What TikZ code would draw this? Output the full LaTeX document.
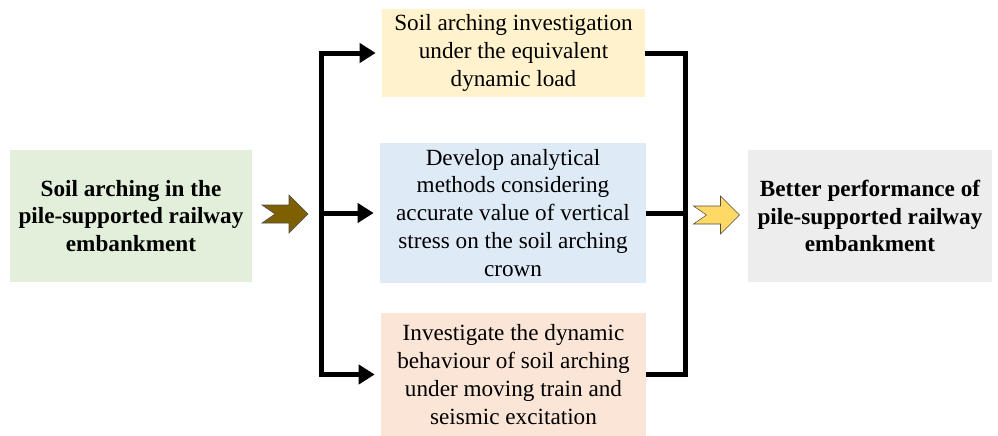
\documentclass[tikz,border=0pt]{standalone}
\usepackage{fontspec}
\setmainfont{Liberation Serif}
\usetikzlibrary{arrows.meta}

\definecolor{boxgreen}{HTML}{E2EFDA}
\definecolor{boxyellow}{HTML}{FFF2CC}
\definecolor{boxblue}{HTML}{DEEBF7}
\definecolor{boxorange}{HTML}{FBE5D6}
\definecolor{boxgrey}{HTML}{EDEDED}
\definecolor{arrowbrown}{HTML}{7F6000}
\definecolor{arrowgold}{HTML}{FFD966}

\begin{document}
\begin{tikzpicture}[
  x=0.02cm, y=-0.02cm,
  box/.style={align=center,inner sep=2pt,font=\fontsize{13.2}{15.9}\selectfont},
  mainbox/.style={box,font=\fontsize{13.2}{15.9}\selectfont\bfseries},
  line/.style={line width=0.1cm,line join=miter},
  branch/.style={line,-{Triangle[length=0.32cm,width=0.38cm]},shorten >=0.12cm},
  pics/blockarrow/.style={code={
    \filldraw[draw=black!70,line width=0.3pt,fill=#1]
      (-23,-9) -- (4,-9) -- (4,-19) -- (23,0) -- (4,19) -- (4,9)
      -- (-23,9) -- (-10,0) -- cycle;
  }}
]
  \useasboundingbox (0,0) rectangle (998,436);

  \node[mainbox,fill=boxgreen,minimum width=4.84cm,minimum height=2.64cm]
    (source) at (131,216) {Soil arching in the\\pile-supported railway\\embankment};
  \node[box,fill=boxyellow,minimum width=5.26cm,minimum height=1.78cm]
    (top) at (513.5,53) {Soil arching investigation\\under the equivalent\\dynamic load};
  \node[box,fill=boxblue,minimum width=5.32cm,minimum height=2.8cm]
    (mid) at (513,213) {Develop analytical\\methods considering\\accurate value of vertical\\stress on the soil arching\\crown};
  \node[box,fill=boxorange,minimum width=5.3cm,minimum height=2.46cm,
    text depth=-0.15cm]
    (bot) at (513.5,374.5) {Investigate the dynamic\\behaviour of soil arching\\under moving train and\\seismic excitation};
  \node[mainbox,fill=boxgrey,minimum width=4.88cm,minimum height=2.64cm]
    (result) at (870,216) {Better performance of\\pile-supported railway\\embankment};

  \pic (inarrow) at (285,214) {blockarrow=arrowbrown};
  \pic (outarrow) at (716.5,215) {blockarrow=arrowgold};

  % split and merge
  \coordinate (split) at (321,213);
  \coordinate (merge) at (685,213);
  \draw[branch] (split) |- (top.west);
  \draw[branch] (split) -- (mid.west);
  \draw[branch] (split) |- (bot.west);
  \draw[line] (top.east) -| (merge);
  \draw[line] (mid.east) -- (merge);
  \draw[line] (bot.east) -| (merge);
\end{tikzpicture}
\end{document}
